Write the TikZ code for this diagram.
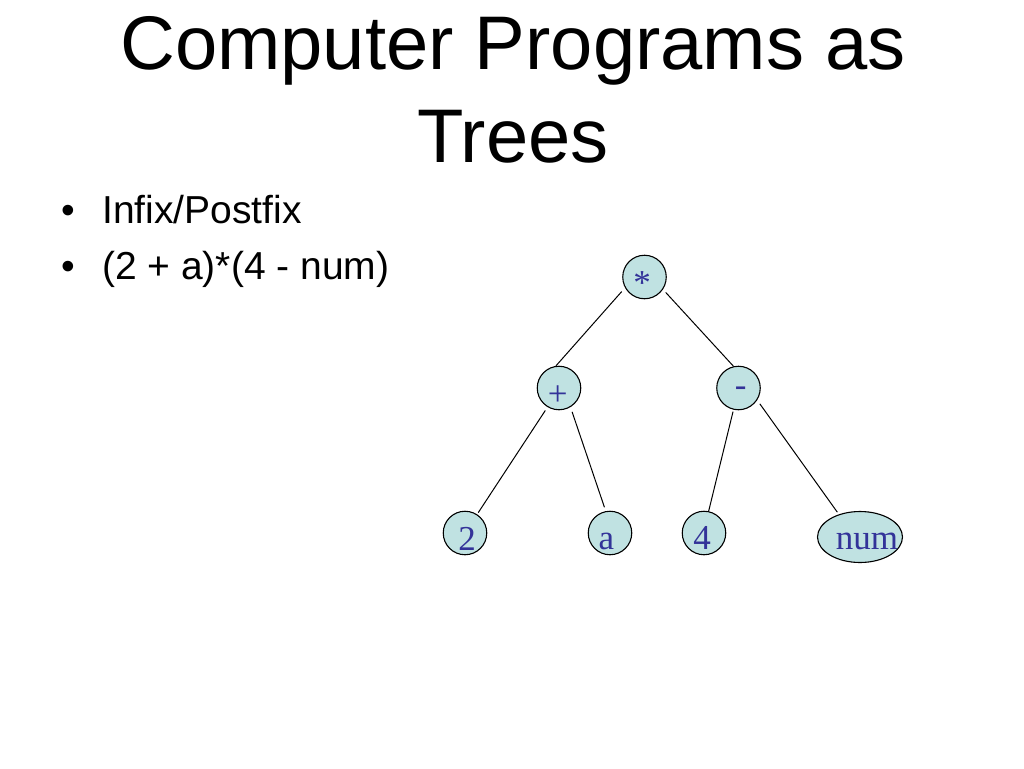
\documentclass[tikz,border=0pt]{standalone}
\usepackage{fontspec}
\setmainfont{Liberation Serif}
\newfontfamily\arialf{Liberation Sans}
\usetikzlibrary{shapes.geometric}
\definecolor{nodefill}{RGB}{192,226,226}
\definecolor{nodetext}{RGB}{51,51,153}
\tikzset{
  treenode/.style={circle,draw=black,line width=1.1pt,fill=nodefill,minimum size=43.5pt,inner sep=0pt},
  ovalnode/.style={ellipse,draw=black,line width=1.1pt,fill=nodefill,minimum width=85pt,minimum height=51pt,inner sep=0pt},
  nodelabel/.style={anchor=base,inner sep=0pt,text=nodetext,font=\fontsize{35}{40}\selectfont},
  edge/.style={draw=black,line width=1pt},
  titletext/.style={anchor=base,inner sep=0pt,font=\arialf\fontsize{76}{92}\selectfont},
  bullettext/.style={anchor=base west,inner sep=0pt,font=\arialf\fontsize{39}{47}\selectfont},
  bulletdot/.style={anchor=base,inner sep=0pt,font=\arialf\fontsize{39}{47}\selectfont}
}
\begin{document}
\begin{tikzpicture}[x=1pt,y=-1pt]
\useasboundingbox (0,0) rectangle (1024,768);
\fill[white] (0,0) rectangle (1024,768);

% title
\node[titletext] (title1) at (513,70) {Computer Programs as};
\node[titletext] (title2) at (513,162) {Trees};

% bullets
\node[bulletdot] (dot1) at (68,223) {•};
\node[bullettext] (b1) at (102,223) {Infix/Postfix};
\node[bulletdot] (dot2) at (68,279) {•};
\node[bullettext] (b2) at (102,279) {(2 + a)*(4 - num)};

% tree nodes
\node[treenode] (star) at (644.5,277) {};
\node[treenode] (plus) at (559,388) {};
\node[treenode] (minus) at (738.5,388) {};
\node[treenode] (two) at (465,533) {};
\node[treenode] (avar) at (610,533) {};
\node[treenode] (four) at (704,533) {};
\node[ovalnode] (num) at (860,537) {};

% labels
\node[nodelabel] (starl) at (642,294.5) {*};
\node[nodelabel] (plusl) at (557.7,405) {+};
\node[nodelabel] (minusl) at (740.7,396) {-};
\node[nodelabel] (twol) at (467,550) {2};
\node[nodelabel] (avarl) at (606.5,549.5) {a};
\node[nodelabel] (fourl) at (702,549.5) {4};
\node[nodelabel] (numl) at (867,549.5) {num};

% edges
\draw[edge,shorten <=5pt] (star.209.5) -- (plus.98);
\draw[edge,shorten <=4pt] (star.326) -- (minus.103);
\draw[edge,shorten <=4pt,shorten >=2pt] (plus.239.4) -- (two.57);
\draw[edge,shorten <=5pt,shorten >=4pt] (plus.301) -- (avar.101);
\draw[edge,shorten <=2pt] (minus.257.7) -- (four.78.7);
\draw[edge,shorten <=4.5pt,shorten >=2.6pt] (minus.327.5) -- (num.133.8);
\end{tikzpicture}
\end{document}
